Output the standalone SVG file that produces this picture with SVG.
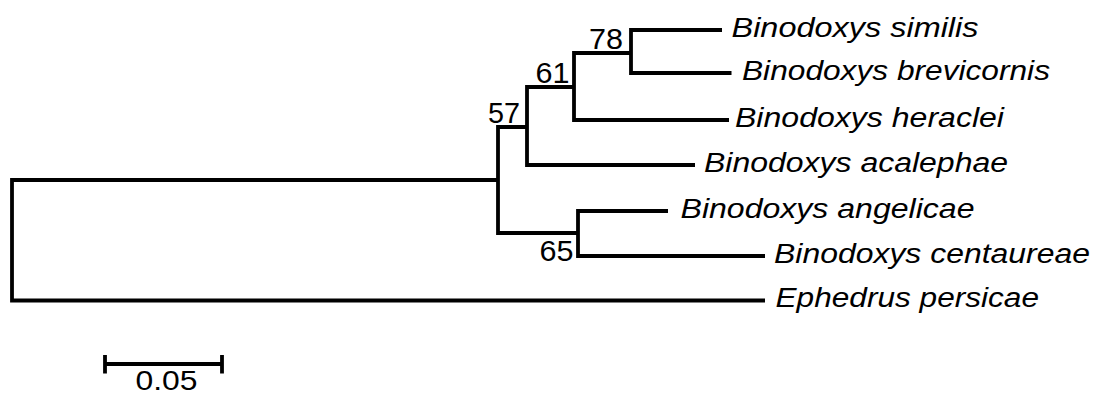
<svg xmlns="http://www.w3.org/2000/svg" width="1093" height="394" viewBox="0 0 1093 394">
<style>
.edge{fill:none;stroke:#000;stroke-width:3.8;stroke-linejoin:miter;stroke-linecap:butt}
.taxon{font-family:"Liberation Sans",Arial,sans-serif;font-style:italic;font-size:27px;fill:#000}
.boot{font-family:"Liberation Sans",Arial,sans-serif;font-size:29px;fill:#000;text-anchor:end}
.scale{font-family:"Liberation Sans",Arial,sans-serif;font-size:27px;fill:#000}
</style>
<rect width="1093" height="394" fill="#fff"/>
<g id="connectors">
<path class="edge" d="M498 180 H12 V300.5 H765"/>
<path class="edge" d="M527 127 H498 V233 H578"/>
<path class="edge" d="M574 87 H527 V165 H695"/>
<path class="edge" d="M631 53 H574 V120 H729"/>
<path class="edge" d="M722 30 H631 V73 H731.5"/>
<path class="edge" d="M668 211 H578 V256 H765"/>
</g>
<g id="node-similis"><text class="taxon" x="731.5" y="36.7" textLength="247" lengthAdjust="spacingAndGlyphs">Binodoxys similis</text></g>
<g id="node-brevicornis"><text class="taxon" x="742" y="80" textLength="308" lengthAdjust="spacingAndGlyphs">Binodoxys brevicornis</text></g>
<g id="node-heraclei"><text class="taxon" x="735" y="126.8" textLength="269" lengthAdjust="spacingAndGlyphs">Binodoxys heraclei</text></g>
<g id="node-acalephae"><text class="taxon" x="704" y="172.3" textLength="304" lengthAdjust="spacingAndGlyphs">Binodoxys acalephae</text></g>
<g id="node-angelicae"><text class="taxon" x="680.5" y="217.8" textLength="294" lengthAdjust="spacingAndGlyphs">Binodoxys angelicae</text></g>
<g id="node-centaureae"><text class="taxon" x="774" y="262.8" textLength="316" lengthAdjust="spacingAndGlyphs">Binodoxys centaureae</text></g>
<g id="node-ephedrus"><text class="taxon" x="775.5" y="306.8" textLength="263.5" lengthAdjust="spacingAndGlyphs">Ephedrus persicae</text></g>
<g id="node-78"><text class="boot" x="623" y="49" textLength="34" lengthAdjust="spacingAndGlyphs">78</text></g>
<g id="node-61"><text class="boot" x="569.5" y="82.7" textLength="34" lengthAdjust="spacingAndGlyphs">61</text></g>
<g id="node-57"><text class="boot" x="520" y="123.3" textLength="32" lengthAdjust="spacingAndGlyphs">57</text></g>
<g id="node-65"><text class="boot" x="573.5" y="261" textLength="34" lengthAdjust="spacingAndGlyphs">65</text></g>
<g id="scale-bar">
<path class="edge" d="M105 364 H222 M105 355 V373.5 M222 355 V373.5"/>
<text class="scale" x="135.5" y="390" textLength="62" lengthAdjust="spacingAndGlyphs">0.05</text>
</g>
</svg>
